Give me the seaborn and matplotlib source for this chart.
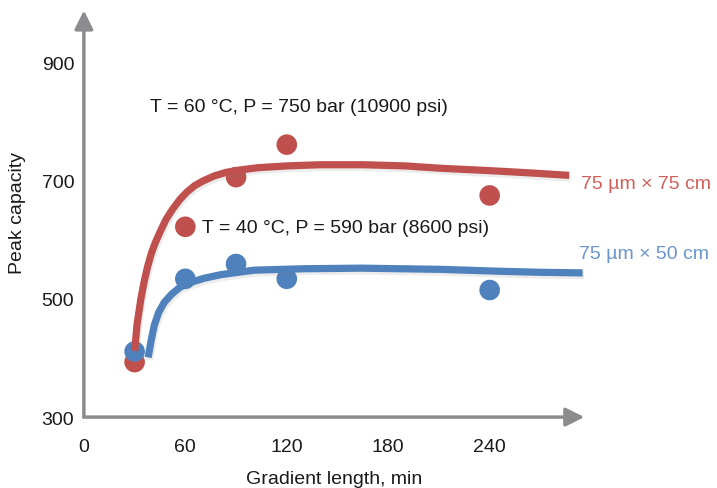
import numpy as np
import pandas as pd
import matplotlib
matplotlib.use('Agg')
import matplotlib.pyplot as plt
import matplotlib.patheffects as pe
import seaborn as sns

# measured points (gradient length in min, peak capacity)
grad_len = [30, 60, 90, 120, 240]
pc_75cm = [393, 622, 706, 761, 675]
pc_50cm = [411, 534, 559, 534, 515]

# trend curves
curve_75_x = [30, 31.5, 33.7, 35.7, 37.7, 40, 42.2, 45, 48.5, 52.5, 57, 61, 65.7, 70.8,
              77, 84, 92, 103, 120, 140, 165, 190, 211, 240, 265, 287]
curve_75_y = [412, 458, 500, 530, 555, 578, 595, 613, 634, 652, 669, 681, 692, 700,
              708, 714, 718, 722, 725, 727, 727, 725, 721, 717, 713, 709]
curve_50_x = [38, 39.6, 41.6, 44.2, 47.5, 51.9, 57, 63.3, 71.2, 81, 91, 100.8, 130, 164,
              211, 243, 270, 295]
curve_50_y = [401, 427, 455, 477, 494, 508, 520, 528, 535, 541, 545, 548.6, 551, 552,
              550, 547, 545, 544]

x_ticks = [0, 60, 120, 180, 240]
y_ticks = [300, 500, 700, 900]

red = '#C0504D'
blue = '#4F81BD'
axis_grey = '#8C8C8E'
txt = '#1a1a1a'
fs = 14

sns.set_style('white')
plt.rcParams['font.family'] = ['Liberation Sans', 'DejaVu Sans']

fig = plt.figure(figsize=(7.17, 4.89), dpi=100)
ax = fig.add_axes([0.117, 0.145, 0.698, 0.84])

pts = pd.DataFrame({'x': grad_len * 2,
                    'y': pc_75cm + pc_50cm,
                    'col': ['75'] * 5 + ['50'] * 5})
sns.scatterplot(data=pts, x='x', y='y', hue='col', palette={'75': red, '50': blue},
                s=220, linewidth=0, legend=False, ax=ax, zorder=3)

shadow = [pe.SimpleLineShadow(offset=(1, -2), shadow_color='grey', alpha=0.15), pe.Normal()]
c75 = pd.DataFrame({'x': curve_75_x, 'y': curve_75_y})
c50 = pd.DataFrame({'x': curve_50_x, 'y': curve_50_y})
sns.lineplot(data=c75, x='x', y='y', sort=False, estimator=None, color=red, lw=5.2,
             solid_capstyle='butt', solid_joinstyle='round', ax=ax, zorder=4, path_effects=shadow)
sns.lineplot(data=c50, x='x', y='y', sort=False, estimator=None, color=blue, lw=5.2,
             solid_capstyle='butt', solid_joinstyle='round', ax=ax, zorder=4, path_effects=shadow)

ax.set_xlim(0, 296)
ax.set_ylim(300, 995)
ax.set_xticks(x_ticks)
ax.set_yticks(y_ticks)
ax.tick_params(length=0, labelsize=fs, colors=txt, pad=7)
ax.tick_params(axis='x', pad=15)
for s in ax.spines.values():
    s.set_visible(False)

# axes drawn as arrows
arrow = dict(arrowstyle='-|>', color=axis_grey, lw=2.5, mutation_scale=28, shrinkA=0, shrinkB=0)
ax.annotate('', xy=(1.0, 0), xytext=(0.0, 0), xycoords='axes fraction', arrowprops=arrow)
ax.annotate('', xy=(0.0, 0.99), xytext=(0.0, 0), xycoords='axes fraction', arrowprops=arrow)

ax.set_xlabel('Gradient length, min', fontsize=fs, color=txt, labelpad=11)
ax.set_ylabel('Peak capacity', fontsize=fs, color=txt, labelpad=11)

ax.text(39, 825, 'T = 60 °C, P = 750 bar (10900 psi)', fontsize=fs, color=txt, va='center')
ax.text(70, 620, 'T = 40 °C, P = 590 bar (8600 psi)', fontsize=fs, color=txt, va='center')
ax.text(294, 695, '75 µm × 75 cm', fontsize=fs, color='#D0605C', va='center', clip_on=False)
ax.text(293, 577, '75 µm × 50 cm', fontsize=fs, color='#6A96CD', va='center', clip_on=False)

fig.savefig('out.png', dpi=100)
